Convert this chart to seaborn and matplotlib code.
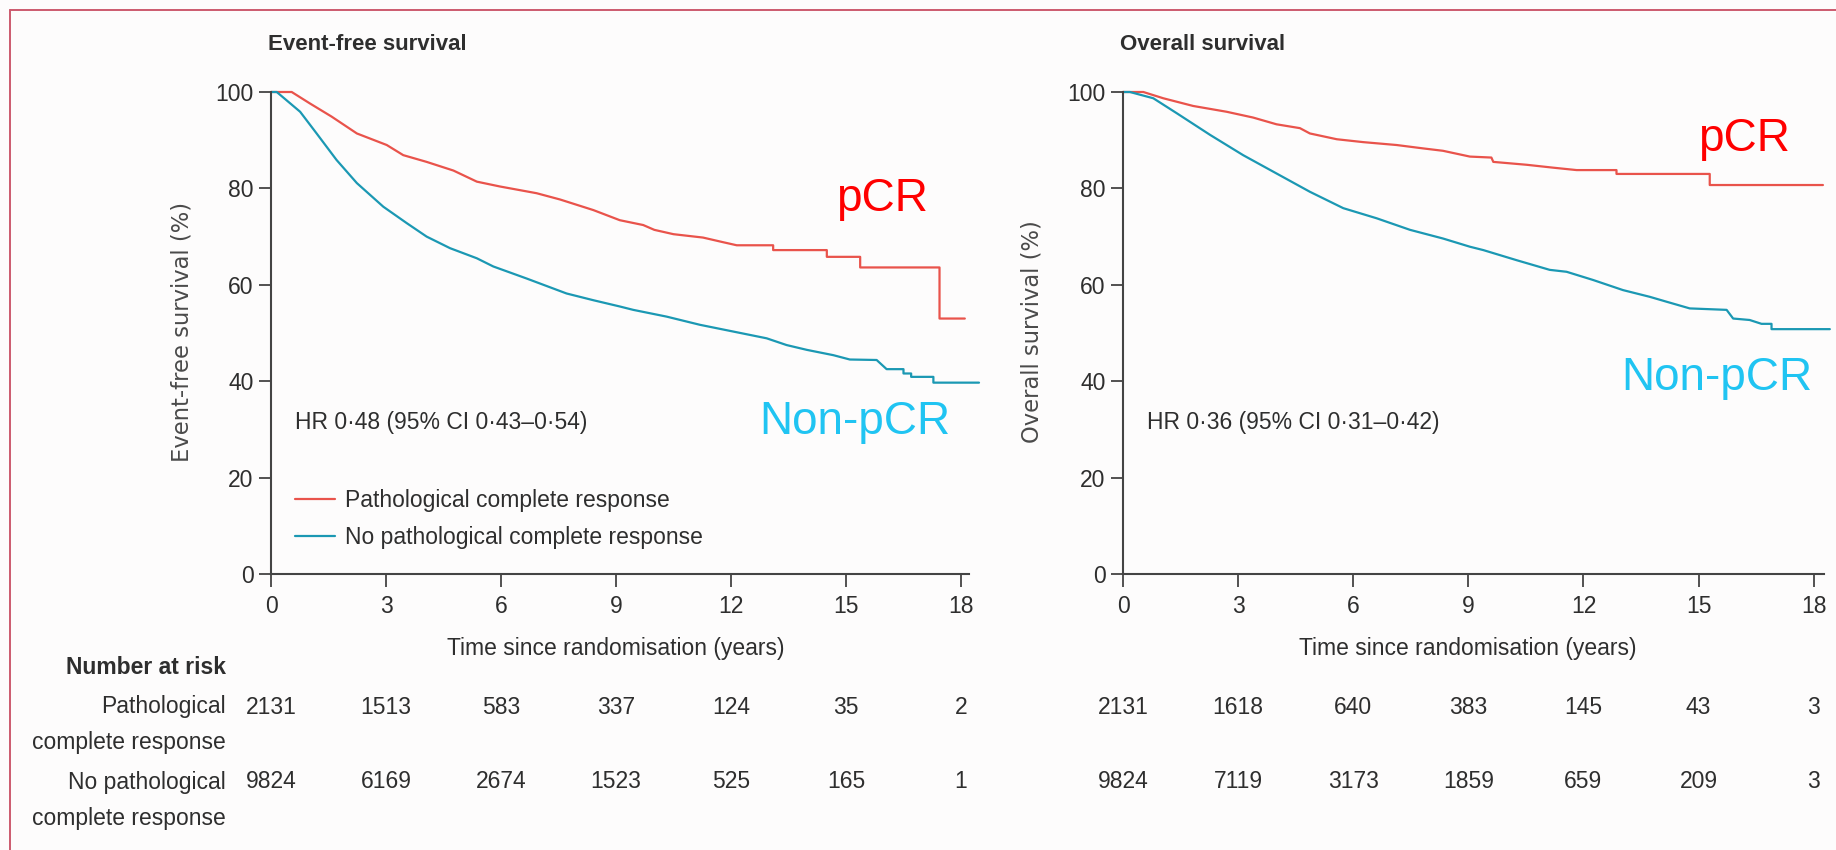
import numpy as np
import pandas as pd
import matplotlib
matplotlib.use("Agg")
import matplotlib.pyplot as plt
from matplotlib.lines import Line2D
import seaborn as sns

# ---------------- data ----------------
efs_pcr_t = [0, 0.54, 1.02, 1.58, 2.24, 3.02, 3.45, 4.06, 4.76, 5.37, 5.97, 6.93, 7.54, 8.41, 9.1,
             9.71, 10.0, 10.5, 11.27, 11.76, 12.15, 13.1, 13.1, 14.5, 14.5, 15.37, 15.37, 17.44, 17.44, 18.1]
efs_pcr_s = [100, 100, 97.6, 94.9, 91.4, 89.0, 86.9, 85.5, 83.7, 81.4, 80.4, 79.0, 77.7, 75.5, 73.4,
             72.4, 71.4, 70.5, 69.8, 68.9, 68.2, 68.2, 67.2, 67.2, 65.8, 65.8, 63.6, 63.6, 53.0, 53.0]

efs_non_t = [0, 0.15, 0.76, 1.19, 1.71, 2.24, 2.93, 3.54, 4.06, 4.67, 5.37, 5.8, 6.67, 7.71, 8.41, 9.1,
             9.45, 10.32, 11.19, 12.06, 12.93, 13.45, 13.98, 14.67, 15.1, 15.8, 16.06, 16.5, 16.5, 16.7,
             16.7, 17.28, 17.28, 18.47]
efs_non_s = [100, 100, 95.9, 91.4, 85.9, 81.1, 76.2, 72.8, 70.0, 67.6, 65.5, 63.8, 61.3, 58.2, 56.8, 55.5,
             54.8, 53.4, 51.7, 50.3, 48.9, 47.5, 46.5, 45.4, 44.5, 44.4, 42.5, 42.5, 41.6, 41.6,
             40.9, 40.9, 39.7, 39.7]

os_pcr_t = [0, 0.53, 1.05, 1.83, 2.7, 3.39, 4.0, 4.61, 4.87, 5.57, 6.26, 7.13, 7.82, 8.34, 9.04, 9.6,
            9.65, 10.52, 11.21, 11.82, 12.86, 12.86, 15.29, 15.29, 18.24]
os_pcr_s = [100, 100, 98.7, 97.1, 95.9, 94.7, 93.3, 92.5, 91.4, 90.2, 89.6, 89.0, 88.3, 87.8, 86.6, 86.4,
            85.5, 84.9, 84.3, 83.8, 83.8, 83.0, 83.0, 80.7, 80.7]

os_non_t = [0, 0.18, 0.79, 1.4, 2.27, 3.13, 4.0, 4.87, 5.74, 6.61, 7.48, 8.34, 9.04, 9.39, 10.26, 11.12,
            11.56, 12.25, 13.03, 13.73, 14.16, 14.77, 15.73, 15.9, 16.33, 16.64, 16.9, 16.9, 18.42]
os_non_s = [100, 100, 98.7, 95.6, 91.1, 86.9, 83.1, 79.3, 75.9, 73.8, 71.4, 69.6, 67.9, 67.2, 65.1, 63.1,
            62.7, 61.0, 58.9, 57.5, 56.5, 55.1, 54.8, 53.0, 52.7, 51.9, 51.9, 50.8, 50.8]

x_ticks = [0, 3, 6, 9, 12, 15, 18]
y_ticks = [0, 20, 40, 60, 80, 100]

efs_risk_pcr = [2131, 1513, 583, 337, 124, 35, 2]
efs_risk_non = [9824, 6169, 2674, 1523, 525, 165, 1]
os_risk_pcr = [2131, 1618, 640, 383, 145, 43, 3]
os_risk_non = [9824, 7119, 3173, 1859, 659, 209, 3]

grp_pcr = "Pathological complete response"
grp_non = "No pathological complete response"

# ---------------- style ----------------
sns.set_style("ticks")
plt.rcParams["font.family"] = ["Liberation Sans", "DejaVu Sans"]

W, H = 1836, 850
RED = "#e9534b"
TEAL = "#1b98b3"
TXT = "#2e2e2e"
SPINE = "#444444"

fig = plt.figure(figsize=(W / 100, H / 100), dpi=100)
fig.patch.set_facecolor("#fdfcfc")


def fx(x):
    return x / W


def fy(y):
    return 1 - y / H


# border lines (top and left)
fig.add_artist(Line2D([fx(9.5), 1.0], [fy(10), fy(10)], color="#cc5a6e", lw=1.4, transform=fig.transFigure))
fig.add_artist(Line2D([fx(9.5), fx(9.5)], [0.0, fy(10)], color="#cc5a6e", lw=1.4, transform=fig.transFigure))

panels = [
    dict(x0=271, xmax=18.47, spine_end=18.2, title="Event-free survival", ylabel="Event-free survival (%)",
         ylab_x=182, hr="HR 0\u00b748 (95% CI 0\u00b743\u20130\u00b754)",
         pcr=(efs_pcr_t, efs_pcr_s), non=(efs_non_t, efs_non_s), risk=(efs_risk_pcr, efs_risk_non),
         legend=True, pcr_lab=(836, 211), non_lab=(759, 434)),
    dict(x0=1123, xmax=18.45, spine_end=18.26, title="Overall survival", ylabel="Overall survival (%)",
         ylab_x=1032, hr="HR 0\u00b736 (95% CI 0\u00b731\u20130\u00b742)",
         pcr=(os_pcr_t, os_pcr_s), non=(os_non_t, os_non_s), risk=(os_risk_pcr, os_risk_non),
         legend=False, pcr_lab=(1698, 151), non_lab=(1621, 390)),
]

Y_TOP, Y_BOT = 92, 574
AX_W = 708

for p in panels:
    ax = fig.add_axes([fx(p["x0"]), fy(Y_BOT), AX_W / W, (Y_BOT - Y_TOP) / H])
    ax.set_facecolor("none")
    df = pd.concat([
        pd.DataFrame({"t": p["pcr"][0], "s": p["pcr"][1], "group": grp_pcr}),
        pd.DataFrame({"t": p["non"][0], "s": p["non"][1], "group": grp_non}),
    ], ignore_index=True)
    sns.lineplot(data=df, x="t", y="s", hue="group", hue_order=[grp_pcr, grp_non],
                 palette={grp_pcr: RED, grp_non: TEAL}, estimator=None, sort=False,
                 lw=1.6, ax=ax, legend=p["legend"], clip_on=False)
    ax.set_xlim(0, p["xmax"])
    ax.set_ylim(0, 100)
    ax.set_xticks(x_ticks)
    ax.set_yticks(y_ticks)
    ax.set_xticklabels([str(v) for v in x_ticks])
    ax.set_yticklabels([str(v) for v in y_ticks])
    sns.despine(ax=ax)
    for s in ("left", "bottom"):
        ax.spines[s].set_color(SPINE)
        ax.spines[s].set_linewidth(1.5)
    ax.spines["left"].set_bounds(0, 100)
    ax.spines["bottom"].set_bounds(0, p["spine_end"])
    ax.tick_params(axis="both", direction="out", length=9, width=1.3, color=SPINE,
                   labelsize=16.5, labelcolor=TXT)
    ax.tick_params(axis="x", pad=6)
    ax.tick_params(axis="y", pad=3.5)

    ax.set_xlabel("Time since randomisation (years)", fontsize=16.5, color=TXT)
    ax.xaxis.set_label_coords(0.4875, (Y_BOT - 637) / (Y_BOT - Y_TOP))
    ax.set_ylabel("")

    # HR text
    ax.text(24 / AX_W, (Y_BOT - 423) / (Y_BOT - Y_TOP), p["hr"], transform=ax.transAxes,
            ha="left", va="center", fontsize=16.5, color=TXT)

    if p["legend"]:
        handles, labels = ax.get_legend_handles_labels()
        ax.legend(handles, labels, loc="upper left",
                  bbox_to_anchor=(24 / AX_W, (Y_BOT - 489) / (Y_BOT - Y_TOP)),
                  frameon=False, fontsize=16.5, handlelength=1.75, handletextpad=0.45,
                  labelspacing=0.62, borderpad=0, borderaxespad=0, labelcolor=TXT)

    # titles and y labels
    fig.text(fx(p["x0"] - 3), fy(44), p["title"], ha="left", va="center", fontsize=16,
             fontweight="bold", color=TXT)
    fig.text(fx(p["ylab_x"]), fy(332), p["ylabel"], rotation=90, ha="center", va="center",
             fontsize=16.3, color="#4a4a4a", family=["DejaVu Sans"])

    # pCR / Non-pCR annotations
    fig.text(fx(p["pcr_lab"][0]), fy(p["pcr_lab"][1]), "pCR", ha="left", va="baseline",
             fontsize=33, color="#ff0000")
    fig.text(fx(p["non_lab"][0]), fy(p["non_lab"][1]), "Non-pCR", ha="left", va="baseline",
             fontsize=33, color="#20c4f2")

    # numbers at risk
    trans = ax.get_xaxis_transform()
    for xv, n1, n2 in zip(x_ticks, p["risk"][0], p["risk"][1]):
        ax.text(xv, (Y_BOT - 707) / (Y_BOT - Y_TOP), str(n1), transform=trans, ha="center",
                va="center", fontsize=16.5, color=TXT, clip_on=False)
        ax.text(xv, (Y_BOT - 782) / (Y_BOT - Y_TOP), str(n2), transform=trans, ha="center",
                va="center", fontsize=16.5, color=TXT, clip_on=False)

# risk table row labels
fig.text(fx(226), fy(668), "Number at risk", ha="right", va="center", fontsize=16.5,
         fontweight="bold", color=TXT)
for txt, yy in [("Pathological", 707), ("complete response", 743),
                ("No pathological", 782), ("complete response", 818)]:
    fig.text(fx(226), fy(yy), txt, ha="right", va="center", fontsize=16.5, color=TXT)

fig.savefig("out.png", dpi=100, facecolor=fig.get_facecolor())
